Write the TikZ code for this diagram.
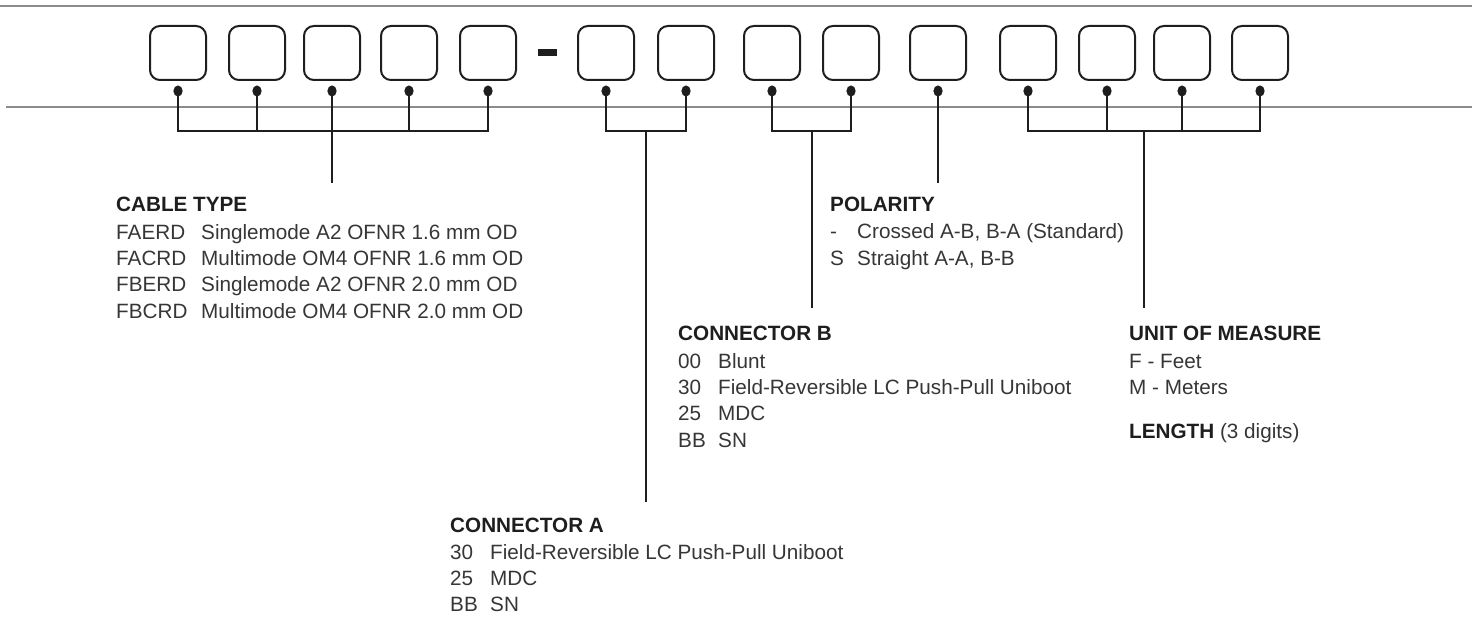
\documentclass[tikz,border=0pt]{standalone}
\usepackage{fontspec}
\setmainfont{Liberation Sans}
\definecolor{rulec}{HTML}{8C8C8C}
\definecolor{boxc}{HTML}{1E1E1E}
\definecolor{linec}{HTML}{1E1E1E}
\definecolor{bodyc}{HTML}{363636}
\definecolor{headc}{HTML}{1E1E1E}
\tikzset{
  codebox/.style={draw=boxc, line width=2pt, rounded corners=10pt, minimum width=56pt, minimum height=54pt, inner sep=0pt},
  bracket/.style={draw=linec, line width=2pt},
  rulel/.style={draw=rulec, line width=1.5pt},
  tx/.style={anchor=base west, inner sep=0pt, text=bodyc, font=\fontsize{20.7}{24}\selectfont},
  hd/.style={tx, text=headc, font=\fontsize{20.7}{24}\selectfont\bfseries},
}
\begin{document}
\begin{tikzpicture}[x=1pt,y=-1pt]
\useasboundingbox (0,0) rectangle (1472,617);
% gray rules
\coordinate (r1a) at (0,6); \coordinate (r1b) at (1472,6);
\coordinate (r2a) at (6,107); \coordinate (r2b) at (1472,107);
\draw[rulel] (r1a) -- (r1b);
\draw[rulel] (r2a) -- (r2b);
% boxes and dots
\foreach \i/\x in {1/178,2/257,3/332,4/409,5/488,6/606,7/686,8/772,9/851,10/938,11/1028,12/1107,13/1182,14/1260}{
  \node[codebox] (b\i) at (\x,53) {};
  \coordinate (d\i) at (\x,91);
}
% dash
\node[fill=boxc, minimum width=19pt, minimum height=7pt, inner sep=0pt] (dash) at (547.5,53) {};
% bracket level
\coordinate (hb) at (0,131);
% cable type
\draw[bracket] (d1) -- (d1 |- hb) -- (d5 |- hb) -- (d5);
\foreach \i in {2,3,4}{\draw[bracket] (d\i) -- (d\i |- hb);}
\coordinate (ctend) at (332,183);
\draw[bracket] (d3 |- hb) -- (ctend);
% connector A
\draw[bracket] (d6) -- (d6 |- hb) -- (d7 |- hb) -- (d7);
\coordinate (catop) at (646,131);
\coordinate (caend) at (646,502);
\draw[bracket] (catop) -- (caend);
% connector B
\draw[bracket] (d8) -- (d8 |- hb) -- (d9 |- hb) -- (d9);
\coordinate (cbtop) at (811.5,131);
\coordinate (cbend) at (811.5,308);
\draw[bracket] (cbtop) -- (cbend);
% polarity
\coordinate (poend) at (938,183);
\draw[bracket] (d10) -- (poend);
% unit / length
\draw[bracket] (d11) -- (d11 |- hb) -- (d14 |- hb) -- (d14);
\foreach \i in {12,13}{\draw[bracket] (d\i) -- (d\i |- hb);}
\coordinate (umtop) at (1144,131);
\coordinate (umend) at (1144,308);
\draw[bracket] (umtop) -- (umend);
% dots on top
\foreach \i in {1,...,14}{\fill[boxc] (d\i) ellipse [x radius=4.6pt, y radius=5.6pt];}
% CABLE TYPE
\node[hd] (ctH) at (116,212) {CABLE TYPE};
\node[tx] (ct1c) at (116,239.5) {FAERD}; \node[tx] (ct1d) at (201,239.5) {Singlemode A2 OFNR 1.6 mm OD};
\node[tx] (ct2c) at (116,265.5) {FACRD}; \node[tx] (ct2d) at (201,265.5) {Multimode OM4 OFNR 1.6 mm OD};
\node[tx] (ct3c) at (116,292) {FBERD}; \node[tx] (ct3d) at (201,292) {Singlemode A2 OFNR 2.0 mm OD};
\node[tx] (ct4c) at (116,318.5) {FBCRD}; \node[tx] (ct4d) at (201,318.5) {Multimode OM4 OFNR 2.0 mm OD};
% POLARITY
\node[hd] (poH) at (830,211.5) {POLARITY};
\node[tx] (po1c) at (830,239) {-}; \node[tx] (po1d) at (857,239) {Crossed A-B, B-A (Standard)};
\node[tx] (po2c) at (830,266) {S}; \node[tx] (po2d) at (857,266) {Straight A-A, B-B};
% CONNECTOR B
\node[hd] (cbH) at (678,340.5) {CONNECTOR B};
\node[tx] (cb1c) at (678,368) {00}; \node[tx] (cb1d) at (718,368) {Blunt};
\node[tx] (cb2c) at (678,394.5) {30}; \node[tx] (cb2d) at (718,394.5) {Field-Reversible LC Push-Pull Uniboot};
\node[tx] (cb3c) at (678,420.5) {25}; \node[tx] (cb3d) at (718,420.5) {MDC};
\node[tx] (cb4c) at (678,447) {BB}; \node[tx] (cb4d) at (718,447) {SN};
% UNIT OF MEASURE
\node[hd] (umH) at (1129,340.5) {UNIT OF MEASURE};
\node[tx] (um1) at (1129,368) {F - Feet};
\node[tx] (um2) at (1129,394.5) {M - Meters};
\node[tx] (lnH) at (1129,438.5) {\textbf{\color{headc}LENGTH} (3 digits)};
% CONNECTOR A
\node[hd] (caH) at (450,532.5) {CONNECTOR A};
\node[tx] (ca1c) at (450,559) {30}; \node[tx] (ca1d) at (490,559) {Field-Reversible LC Push-Pull Uniboot};
\node[tx] (ca2c) at (450,585.5) {25}; \node[tx] (ca2d) at (490,585.5) {MDC};
\node[tx] (ca3c) at (450,611.5) {BB}; \node[tx] (ca3d) at (490,611.5) {SN};
\end{tikzpicture}
\end{document}
